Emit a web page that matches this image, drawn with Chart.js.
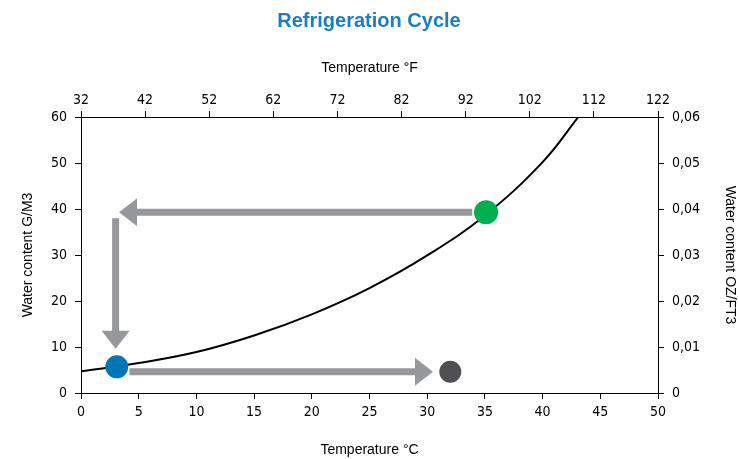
<!DOCTYPE html>
<html>
<head>
<meta charset="utf-8">
<script src="https://cdn.jsdelivr.net/npm/chart.js@4"></script>
<style>
  html, body { margin: 0; padding: 0; background: #fff; }
  #wrap { width: 738px; height: 459px; }
</style>
</head>
<body>
<div id="wrap"><canvas id="chart" width="738" height="459"></canvas></div>
<script>
// curve: temperature (C) -> water content (g/m3)
const tempC = [0, 5, 10, 15, 20, 25, 30, 35, 40, 43.1];
const waterG = [4.7, 6.5, 8.9, 12.5, 17.1, 22.8, 29.9, 38.6, 50.2, 60];

// cycle points
const dotX = [3.1, 35.1, 32.0];
const dotY = [5.7, 39.3, 4.6];
const dotColors = ['#0077b4', '#00b050', '#505052'];

// arrows [fromX, fromY, toX, toY] (tip at "to")
const arrows = [
  [33.9, 39.3, 3.3, 39.3],
  [3.0, 38.0, 3.0, 9.6],
  [4.2, 4.6, 30.5, 4.6]
];

const xTicksC = [0, 50, 5];
const xTicksF = [32, 122, 10];
const yTicksG = [0, 60, 10];
const yTicksOz = [0, 0.06, 0.01];

const arrowColor = '#97989b';
const tickFont = { family: '"Liberation Sans Narrow", "DejaVu Sans Condensed", Arial, sans-serif', size: 14 };
const titleFont = { family: '"Liberation Sans", Arial, sans-serif', size: 14 };

const arrowPlugin = {
  id: 'arrows',
  beforeDatasetsDraw(chart) {
    const ctx = chart.ctx;
    const xs = chart.scales.x, ys = chart.scales.y;
    ctx.save();
    arrows.forEach(a => {
      const x1 = xs.getPixelForValue(a[0]), y1 = ys.getPixelForValue(a[1]);
      const x2 = xs.getPixelForValue(a[2]), y2 = ys.getPixelForValue(a[3]);
      const ang = Math.atan2(y2 - y1, x2 - x1);
      const headLen = 18, headHalf = 14;
      const bx = x2 - Math.cos(ang) * headLen, by = y2 - Math.sin(ang) * headLen;
      ctx.strokeStyle = arrowColor;
      ctx.lineWidth = 7;
      ctx.lineCap = 'butt';
      ctx.beginPath();
      ctx.moveTo(x1, y1);
      ctx.lineTo(bx + Math.cos(ang), by + Math.sin(ang));
      ctx.stroke();
      ctx.fillStyle = arrowColor;
      ctx.beginPath();
      ctx.moveTo(x2, y2);
      ctx.lineTo(bx - Math.sin(ang) * headHalf, by + Math.cos(ang) * headHalf);
      ctx.lineTo(bx + Math.sin(ang) * headHalf, by - Math.cos(ang) * headHalf);
      ctx.closePath();
      ctx.fill();
    });
    ctx.restore();
  }
};

const axisLine = {
  grid: { display: true, drawOnChartArea: false, drawTicks: true, tickLength: 6, color: '#000' },
  border: { display: true, color: '#000', width: 1 }
};

new Chart(document.getElementById('chart'), {
  type: 'scatter',
  data: {
    datasets: [
      {
        data: tempC.map((t, i) => ({ x: t, y: waterG[i] })),
        showLine: true,
        borderColor: '#000',
        borderWidth: 2,
        pointRadius: 0,
        tension: 0.4,
        order: 2
      },
      {
        data: dotX.map((x, i) => ({ x: x, y: dotY[i] })),
        pointRadius: [11.5, 12, 11],
        pointBackgroundColor: dotColors,
        pointBorderWidth: 0,
        order: 1
      }
    ]
  },
  options: {
    responsive: false,
    animation: false,
    layout: { padding: 0 },
    plugins: {
      legend: { display: false },
      tooltip: { enabled: false },
      title: {
        display: true,
        text: 'Refrigeration Cycle',
        color: '#1a7fbb',
        font: { family: '"Liberation Sans", Arial, sans-serif', size: 20, weight: 'bold' },
        padding: { top: 9, bottom: 18 }
      }
    },
    scales: {
      x: {
        type: 'linear', position: 'bottom',
        min: xTicksC[0], max: xTicksC[1],
        ticks: { stepSize: xTicksC[2], color: '#000', font: tickFont, padding: 5, maxRotation: 0 },
        title: { display: true, text: 'Temperature °C', color: '#000', font: titleFont, padding: 0 },
        ...axisLine,
        afterFit(s) { s.height = 459 - 393; }
      },
      x2: {
        type: 'linear', position: 'top',
        min: xTicksF[0], max: xTicksF[1],
        ticks: { stepSize: xTicksF[2], color: '#000', font: tickFont, padding: 2, maxRotation: 0 },
        title: { display: true, text: 'Temperature °F', color: '#000', font: titleFont, padding: 9 },
        ...axisLine,
        afterFit(s) { s.height = 117 - 51; }
      },
      y: {
        type: 'linear', position: 'left',
        min: yTicksG[0], max: yTicksG[1],
        ticks: { stepSize: yTicksG[2], color: '#000', font: tickFont, padding: 8 },
        title: { display: true, text: 'Water content G/M3', color: '#000', font: titleFont, padding: 20 },
        ...axisLine,
        afterFit(s) { s.width = 81; }
      },
      y2: {
        type: 'linear', position: 'right',
        min: yTicksOz[0], max: yTicksOz[1],
        ticks: {
          stepSize: yTicksOz[2], color: '#000', font: tickFont, padding: 8,
          callback: v => v === 0 ? '0' : v.toFixed(2).replace('.', ',')
        },
        title: { display: true, text: 'Water content OZ/FT3', color: '#000', font: titleFont, padding: 0 },
        ...axisLine,
        afterFit(s) { s.width = 738 - 658; }
      }
    }
  },
  plugins: [arrowPlugin]
});
</script>
</body>
</html>
